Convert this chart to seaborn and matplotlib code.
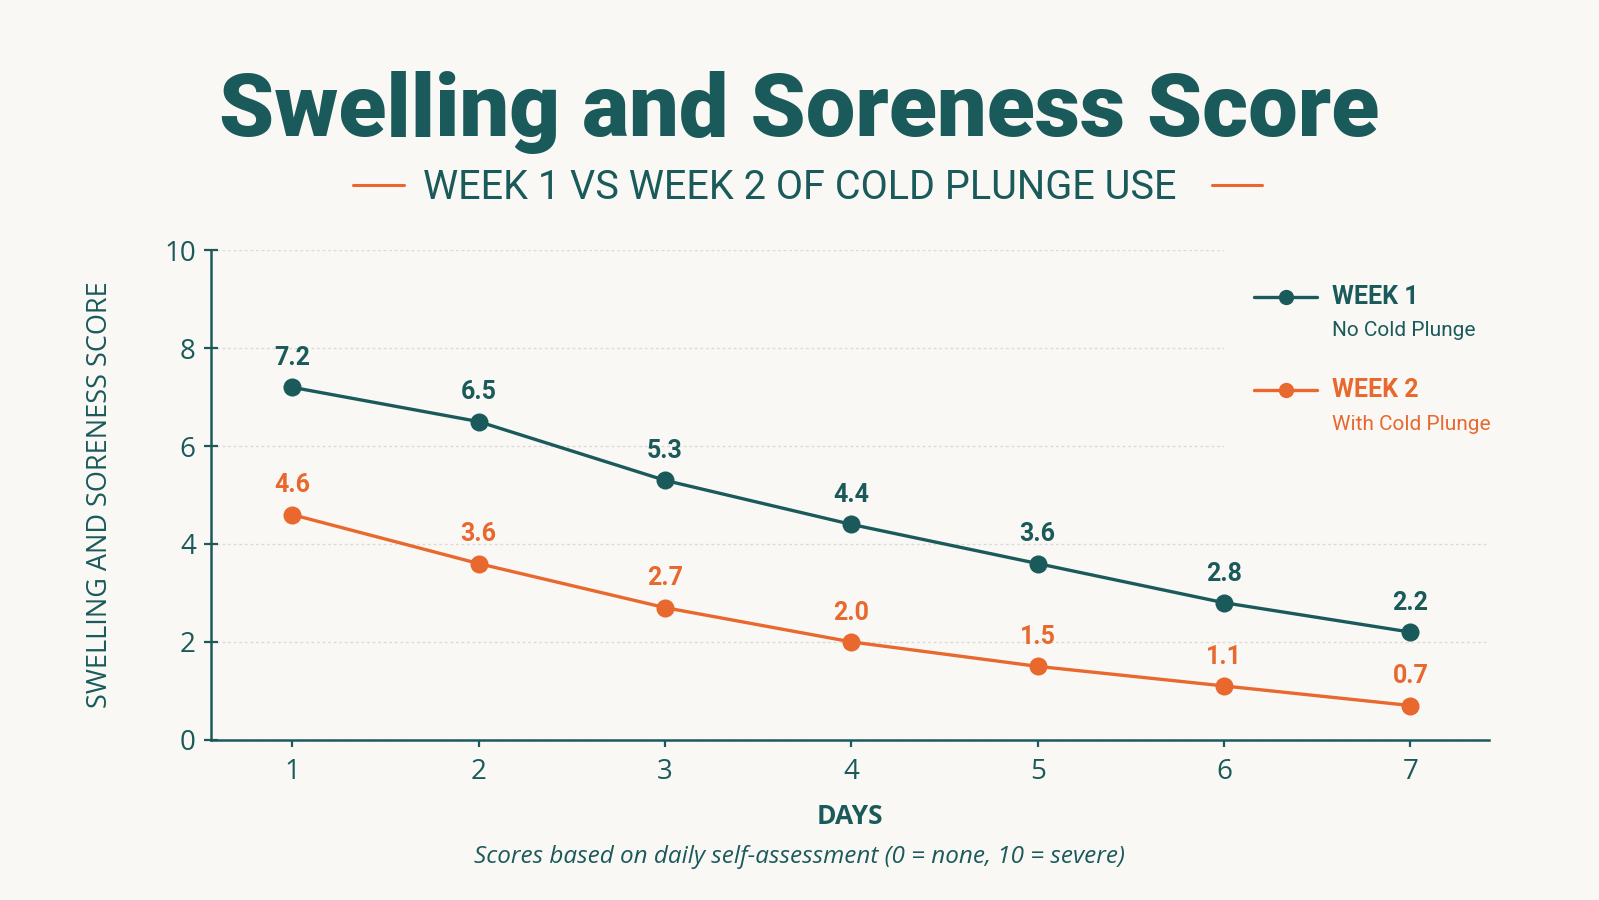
import matplotlib.pyplot as plt
import pandas as pd
import seaborn as sns
from matplotlib.lines import Line2D
from matplotlib.patches import Rectangle

BG = "#faf8f4"
TEAL = "#1a5a5b"
ORANGE = "#e8682e"
GRID = "#dcdad6"

days = [1, 2, 3, 4, 5, 6, 7]
week1 = [7.2, 6.5, 5.3, 4.4, 3.6, 2.8, 2.2]
week2 = [4.6, 3.6, 2.7, 2.0, 1.5, 1.1, 0.7]
series_names = ["WEEK 1", "WEEK 2"]
series_notes = ["No Cold Plunge", "With Cold Plunge"]
y_ticks = [0, 2, 4, 6, 8, 10]

sns.set_theme(style="white")
plt.rcParams["font.family"] = ["Open Sans", "DejaVu Sans"]
NARROW = ["Roboto", "DejaVu Sans"]

df = pd.DataFrame({
    "day": days * 2,
    "score": week1 + week2,
    "week": [series_names[0]] * len(days) + [series_names[1]] * len(days),
})
palette = {series_names[0]: TEAL, series_names[1]: ORANGE}

fig = plt.figure(figsize=(15.99, 9.0), dpi=100, facecolor=BG)
ax = fig.add_axes([0.132, 0.178, 0.799, 0.544])
ax.set_facecolor(BG)

sns.lineplot(data=df, x="day", y="score", hue="week", palette=palette,
             marker="o", markersize=13, markeredgewidth=0, linewidth=2.4,
             legend=False, ax=ax, zorder=3)

# value labels
for name, vals in zip(series_names, [week1, week2]):
    for d, v in zip(days, vals):
        ax.annotate(f"{v:.1f}", (d, v), xytext=(0, 21), textcoords="offset points",
                    ha="center", va="center", fontsize=18, fontweight="bold",
                    color=palette[name], family=NARROW, zorder=4)

ax.set_xlim(0.565, 7.42)
ax.set_ylim(0, 10)
ax.set_xticks(days)
ax.set_yticks(y_ticks)
ax.yaxis.grid(True, linestyle=(0, (2, 2)), color=GRID, linewidth=1, zorder=0)
ax.xaxis.grid(False)
ax.set_axisbelow(True)

for side in ["top", "right"]:
    ax.spines[side].set_visible(False)
for side in ["left", "bottom"]:
    ax.spines[side].set_color(TEAL)
    ax.spines[side].set_linewidth(1.8)

ax.tick_params(axis="y", direction="inout", length=10, width=1.6, color=TEAL,
               labelcolor=TEAL, labelsize=20, pad=6, left=True)
ax.tick_params(axis="x", direction="out", length=5, width=1.6, color=TEAL,
               labelcolor=TEAL, labelsize=20, pad=8, bottom=True)

ax.set_xlabel("DAYS", fontsize=19, fontweight="bold", color=TEAL, labelpad=12)
ax.set_ylabel("SWELLING AND SORENESS SCORE", fontsize=19.5, color=TEAL, labelpad=36)

# legend area (hides the grid behind it)
ax.add_patch(Rectangle((0.793, 0.5), 0.3, 0.55, transform=ax.transAxes,
                       facecolor=BG, edgecolor="none", zorder=1, clip_on=False))
for i, (name, note) in enumerate(zip(series_names, series_notes)):
    yy = 0.904 - i * 0.19
    c = palette[name]
    ax.add_line(Line2D([0.816, 0.866], [yy, yy], transform=ax.transAxes,
                       color=c, linewidth=2.4, clip_on=False, zorder=5))
    ax.add_line(Line2D([0.841], [yy], transform=ax.transAxes, marker="o",
                       markersize=11, markeredgewidth=0, color=c,
                       clip_on=False, zorder=6))
    ax.text(0.877, yy, name, transform=ax.transAxes, va="center", ha="left",
            fontsize=18, fontweight="bold", color=c, family=NARROW, zorder=6)
    ax.text(0.877, yy - 0.069, note, transform=ax.transAxes, va="center",
            ha="left", fontsize=15, color=c, family=NARROW, zorder=6)

# titles
fig.text(0.5, 0.849, "Swelling and Soreness Score", ha="center", va="baseline",
         fontsize=63.5, fontweight="black", color=TEAL, family=NARROW)
fig.text(0.5, 0.779, "WEEK 1 VS WEEK 2 OF COLD PLUNGE USE", ha="center",
         va="baseline", fontsize=28.5, color=TEAL, family=NARROW)
fig.add_artist(Line2D([353 / 1599, 404 / 1599], [0.795, 0.795], color=ORANGE,
                      linewidth=2.2))
fig.add_artist(Line2D([1212 / 1599, 1262 / 1599], [0.795, 0.795], color=ORANGE,
                      linewidth=2.2))

fig.text(0.5, 0.048, "Scores based on daily self-assessment (0 = none, 10 = severe)",
         ha="center", va="center", fontsize=17.5, style="italic", color=TEAL)

fig.savefig("out.png", dpi=100, facecolor=BG)
